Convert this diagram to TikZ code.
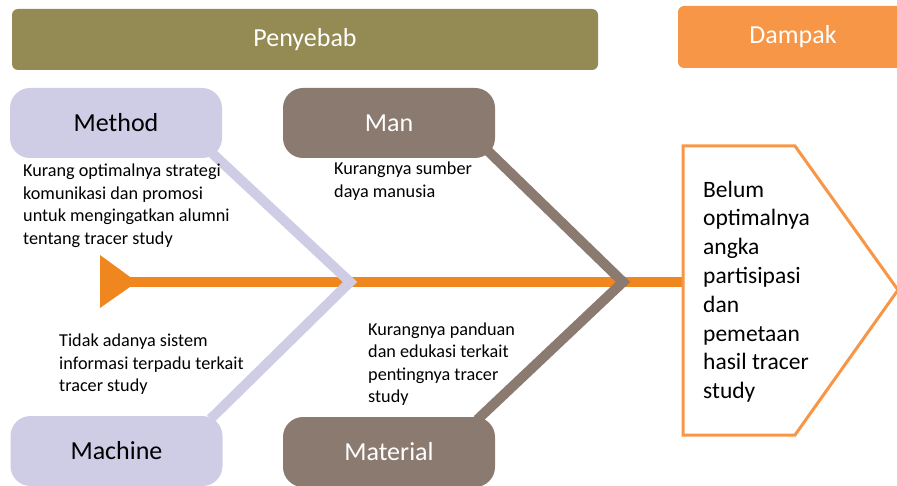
\documentclass[tikz,border=0pt]{standalone}
\usepackage{fontspec}
\setmainfont{Carlito}
\usepackage{xcolor}
\usetikzlibrary{backgrounds}
\definecolor{olive}{HTML}{948A54}
\definecolor{dampak}{HTML}{F79646}
\definecolor{spinec}{HTML}{F0871E}
\definecolor{lavender}{HTML}{CFCCE6}
\definecolor{taupe}{HTML}{8A7A70}

\begin{document}
\begin{tikzpicture}[x=1pt,y=-1pt,
    header/.style={rounded corners=6pt,text=white,inner sep=0pt,font=\fontsize{26}{30}\selectfont},
    cat/.style={rounded corners=20pt,minimum width=212pt,minimum height=70pt,inner sep=0pt,font=\fontsize{26}{30}\selectfont},
    cause/.style={anchor=base west,align=left,inner sep=0pt,font=\fontsize{18.2}{22.5}\selectfont},
    bone/.style={line width=10pt,line join=miter}]
    \useasboundingbox (0,0) rectangle (897,486);
    \clip (0,0) rectangle (897,486);

    % headers
    \node[header,fill=olive,minimum width=586pt,minimum height=61pt] (penyebab) at (305,39.5) {Penyebab};
    \node[header,fill=dampak,minimum width=230pt,minimum height=62pt] (dampak) at (793,37) {Dampak};

    % categories
    \node[cat,fill=lavender] (method) at (116,123) {Method};
    \node[cat,fill=taupe,text=white] (man) at (389,123) {Man};
    \node[cat,fill=lavender] (machine) at (116.5,451) {Machine};
    \node[cat,fill=taupe,text=white] (material) at (389,452) {Material};

    % causes (anchored on the last line)
    \node[cause] (methodtxt) at (23,244.5) {Kurang optimalnya strategi\\komunikasi dan promosi\\untuk mengingatkan alumni\\tentang tracer study};
    \node[cause] (mantxt) at (334,197.5) {Kurangnya sumber\\daya manusia};
    \node[cause] (machinetxt) at (59,391.5) {Tidak adanya sistem\\informasi terpadu terkait\\tracer study};
    \node[cause] (materialtxt) at (368,402.5) {Kurangnya panduan\\dan edukasi terkait\\pentingnya tracer\\study};

    % effect
    \draw[dampak,fill=white,line width=3pt,line join=miter] (683,146) -- (795,146) -- (898,290) -- (795,435) -- (683,435) -- cycle;
    \node[anchor=base west,align=left,inner sep=0pt,font=\fontsize{23.5}{28.8}\selectfont] (effecttxt) at (703,398.6) {Belum\\optimalnya\\angka\\partisipasi\\dan\\pemetaan\\hasil tracer\\study};

    \begin{scope}[on background layer]
        \coordinate (tail) at (130,282);
        \coordinate (effect) at (683,282);
        \coordinate (jmethod) at (350,282);
        \coordinate (jman) at (623,282);
        \fill[spinec] (100,255) -- (137,282) -- (100,308) -- cycle;
        \draw[spinec,line width=10pt] (tail) -- (effect);
        \draw[bone,lavender] ([shift={(-10pt,5pt)}]method.south east) -- (jmethod) -- ([shift={(-12pt,-3pt)}]machine.north east);
        \draw[bone,taupe] ([shift={(-8pt,8pt)}]man.south east) -- (jman) -- ([shift={(-18pt,-3pt)}]material.north east);
    \end{scope}
\end{tikzpicture}
\end{document}
